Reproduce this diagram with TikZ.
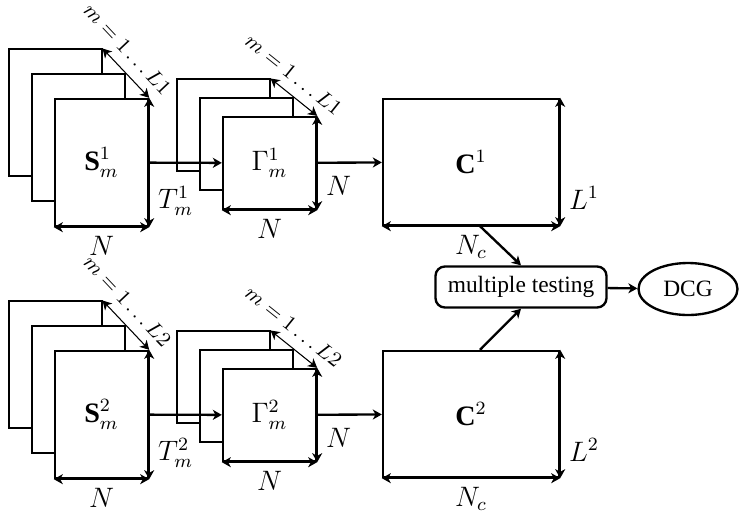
\documentclass[tikz,border=0pt]{standalone}
\usepackage{amsmath}
\usepackage{fontspec}
\setmainfont{Liberation Serif}
\usetikzlibrary{arrows,arrows.meta,shapes.geometric}

\tikzset{
	>={Stealth[length=1.35mm, width=1.5mm, inset=0.4mm]},
	heavy/.style={line width=1pt},
	sheet/.style={draw, fill=white, inner sep=0pt, line width=0.45pt},
	front/.style={sheet, heavy, font=\large},
	tall/.style={minimum width=1.395cm, minimum height=1.905cm},
	square/.style={minimum width=1.395cm, minimum height=1.38cm},
	corr/.style={draw, heavy, inner sep=0pt, minimum width=2.64cm, minimum height=1.89cm, font=\large},
	dim/.style={<->, heavy, every node/.style={font=\large}},
	rep/.style={<->, line width=0.45pt},
	replabel/.style={pos=0.26, above=1pt, sloped, font=\small},
	flow/.style={->, heavy}
}

\begin{document}
\begin{tikzpicture}[x=0.015cm, y=-0.015cm]
	\useasboundingbox (0,0) rectangle (748,519);

	% first condition
	\node[sheet, tall] (s1c) at (55.5,112.5) {};
	\node[sheet, tall] (s1b) at (78.5,137.5) {};
	\node[front, tall] (s1a) at (101.5,162.5) { $ \mathbf{S}^1_m $ };
	\node[sheet, square] (g1c) at (223.5,125) {};
	\node[sheet, square] (g1b) at (246.5,144) {};
	\node[front, square] (g1a) at (269.5,163) { $ \Gamma^1_m $ };
	\node[corr] (c1) at (471,162) { $ \mathbf{C}^1 $ };

	% second condition
	\node[sheet, tall] (s2c) at (55.5,364.5) {};
	\node[sheet, tall] (s2b) at (78.5,389.5) {};
	\node[front, tall] (s2a) at (101.5,414.5) { $ \mathbf{S}^2_m $ };
	\node[sheet, square] (g2c) at (223.5,377) {};
	\node[sheet, square] (g2b) at (246.5,396) {};
	\node[front, square] (g2a) at (269.5,415) { $ \Gamma^2_m $ };
	\node[corr] (c2) at (471,414) { $ \mathbf{C}^2 $ };

	\node[draw, heavy, rounded corners, minimum width=2.565cm, minimum height=0.615cm] (mt) at (521,287)
		{ multiple testing };
	\node[draw, heavy, ellipse, minimum width=1.485cm, minimum height=0.78cm] (dcg) at (688,289)
		{ DCG };

	% sizes
	\draw[rep] (s1c.north east) to node[replabel] { $ m = 1 \dots L1 $ } (s1a.north east);
	\draw[dim] (s1a.south west) to node[below] { $ N $ } (s1a.south east);
	\draw[dim] (s1a.north east) to node[pos=0.8, right] { $ T^1_m $ } (s1a.south east);
	\draw[rep] (g1c.north east) to node[replabel] { $ m = 1 \dots L1 $ } (g1a.north east);
	\draw[dim] (g1a.south west) to node[below] { $ N $ } (g1a.south east);
	\draw[dim] (g1a.north east) to node[pos=0.74, right] { $ N $ } (g1a.south east);
	\draw[dim] (c1.south west) to node[below] { $ N_c $ } (c1.south east);
	\draw[dim] (c1.north east) to node[pos=0.78, right] { $ L^1 $ } (c1.south east);

	\draw[rep] (s2c.north east) to node[replabel] { $ m = 1 \dots L2 $ } (s2a.north east);
	\draw[dim] (s2a.south west) to node[below] { $ N $ } (s2a.south east);
	\draw[dim] (s2a.north east) to node[pos=0.8, right] { $ T^2_m $ } (s2a.south east);
	\draw[rep] (g2c.north east) to node[replabel] { $ m = 1 \dots L2 $ } (g2a.north east);
	\draw[dim] (g2a.south west) to node[below] { $ N $ } (g2a.south east);
	\draw[dim] (g2a.north east) to node[pos=0.74, right] { $ N $ } (g2a.south east);
	\draw[dim] (c2.south west) to node[below] { $ N_c $ } (c2.south east);
	\draw[dim] (c2.north east) to node[pos=0.78, right] { $ L^2 $ } (c2.south east);

	% flow
	\draw[flow] (s1a) to (g1a);
	\draw[flow] (g1a) to (c1);
	\draw[flow] (s2a) to (g2a);
	\draw[flow] (g2a) to (c2);
	\draw[flow] ([xshift=0.135cm]c1.south) to (mt.north);
	\draw[flow] ([xshift=0.135cm]c2.north) to (mt.south);
	\draw[flow] (mt) to (dcg);
\end{tikzpicture}
\end{document}
